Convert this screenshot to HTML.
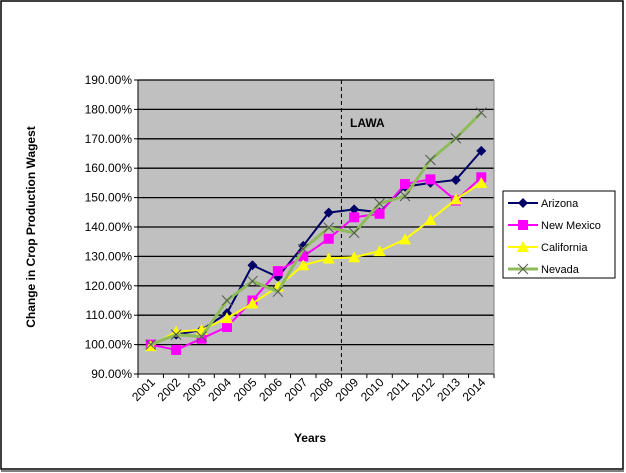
<!DOCTYPE html>
<html><head><meta charset="utf-8"><style>
body{margin:0;background:#fff;}
svg{display:block;font-family:"Liberation Sans",Arial,sans-serif;}
</style></head><body>
<svg id="chart" width="626" height="473">
<rect x="1" y="1" width="622" height="468" fill="#fff" stroke="#000" stroke-width="1.5"/>
<line x1="1" y1="471" x2="624" y2="471" stroke="#000" stroke-width="1"/>
<rect x="138" y="80" width="356" height="294" fill="#c0c0c0"/>
<g id="grid"></g><g id="series"></g>
<text x="350" y="127" font-size="12" font-weight="bold">LAWA</text>
<text x="310" y="442" font-size="12" font-weight="bold" text-anchor="middle">Years</text>
<text transform="translate(35,227) rotate(-90)" font-size="12" font-weight="bold" text-anchor="middle">Change in Crop Production Wagest</text>
<g id="legend">
<rect x="503" y="191" width="112" height="87" fill="#fff" stroke="#000"/>
</g>
</svg>
<script>
const years=["2001","2002","2003","2004","2005","2006","2007","2008","2009","2010","2011","2012","2013","2014"];
const arizona=[100,103.4,105,110.7,127,123,133.6,144.9,146,145,153.7,155,156,165.9];
const newMexico=[100,98.2,102,106,115,125,130,136,143.3,144.5,154.6,156.2,149,156.9];
const california=[99.5,104.4,105,109,114,119.7,127,129.3,129.7,131.8,135.8,142.4,149.4,155];
const nevada=[100,103.4,102.7,115,121.6,118,132.5,139.8,138,148,150.5,162.8,170.2,178.9];
const yTicks=[90,100,110,120,130,140,150,160,170,180,190];
const seriesNames=["Arizona","New Mexico","California","Nevada"];
const NS="http://www.w3.org/2000/svg";
const L=138,R=494,T=80,B=374,ymin=90,ymax=190;
const cw=(R-L)/years.length;
const xs=i=>L+cw*(i+0.5);
const ys=v=>B-(v-ymin)/(ymax-ymin)*(B-T);
function mk(t,a,p){const e=document.createElementNS(NS,t);for(const k in a)e.setAttribute(k,a[k]);p.appendChild(e);return e;}
const grid=document.getElementById('grid'),svg=document.getElementById('chart');
yTicks.forEach(v=>{
 const y=ys(v);
 const g=mk('line',{x1:L,x2:v===90?R:R,y1:y,y2:y,stroke:'#000','stroke-width':v===90?1:1.3},grid);
 
 
 mk('line',{x1:L-4,x2:L,y1:y,y2:y,stroke:'#000'},grid);
 const t=mk('text',{x:L-6,y:y+4,'font-size':12,'text-anchor':'end'},grid);
 t.textContent=v.toFixed(2)+'%';
 
 
});
mk('line',{x1:L,x2:L,y1:T,y2:B,stroke:'#000'},grid);
mk('line',{x1:R,x2:R,y1:T,y2:B,stroke:'#808080'},grid);
for(let i=0;i<=years.length;i++){mk('line',{x1:L+cw*i,x2:L+cw*i,y1:B,y2:B+4,stroke:'#000'},grid);}
years.forEach((yr,i)=>{
 const t=mk('text',{transform:`translate(${xs(i)+5},${B+9}) rotate(-45)`,'font-size':12,'text-anchor':'end'},grid);
 t.textContent=yr;
 
 
});
mk('line',{x1:L+cw*8,x2:L+cw*8,y1:T,y2:B,stroke:'#000','stroke-dasharray':'4,3'},grid);
const sg=document.getElementById('series');
const cfg=[[arizona,'#000066','diamond',2],[newMexico,'#ff00ff','square',2],[california,'#ffff00','triangle',2],[nevada,'#8fbc5a','x',3]];
function marker(type,x,y,col,p){
 if(type==='diamond')return mk('polygon',{points:`${x},${y-5} ${x+5},${y} ${x},${y+5} ${x-5},${y}`,fill:col},p);
 if(type==='square')return mk('rect',{x:x-5,y:y-5,width:10,height:10,fill:col},p);
 if(type==='triangle')return mk('polygon',{points:`${x},${y-6} ${x+6},${y+5} ${x-6},${y+5}`,fill:col},p);
 const g=mk('g',{},p);
 mk('line',{x1:x-5,y1:y-5,x2:x+5,y2:y+5,stroke:'#555'},g);mk('line',{x1:x-5,y1:y+5,x2:x+5,y2:y-5,stroke:'#555'},g);return g;
}
cfg.forEach(([data,col,m,w],si)=>{
 const pl=mk('polyline',{points:data.map((v,i)=>xs(i)+','+ys(v)).join(' '),fill:'none',stroke:col,'stroke-width':w},sg);
 
 
 data.forEach((v,i)=>{const e=marker(m,xs(i),ys(v),col,sg);
  
  });
 const lg=document.getElementById('legend');
 const ly=203+si*22;
 mk('line',{x1:508,x2:538,y1:ly,y2:ly,stroke:col,'stroke-width':w},lg);
 marker(m,523,ly,col,lg);
 const t=mk('text',{x:541,y:ly+4,'font-size':11},lg);
 t.textContent=seriesNames[si];
 
 
});
</script>
</body></html>
